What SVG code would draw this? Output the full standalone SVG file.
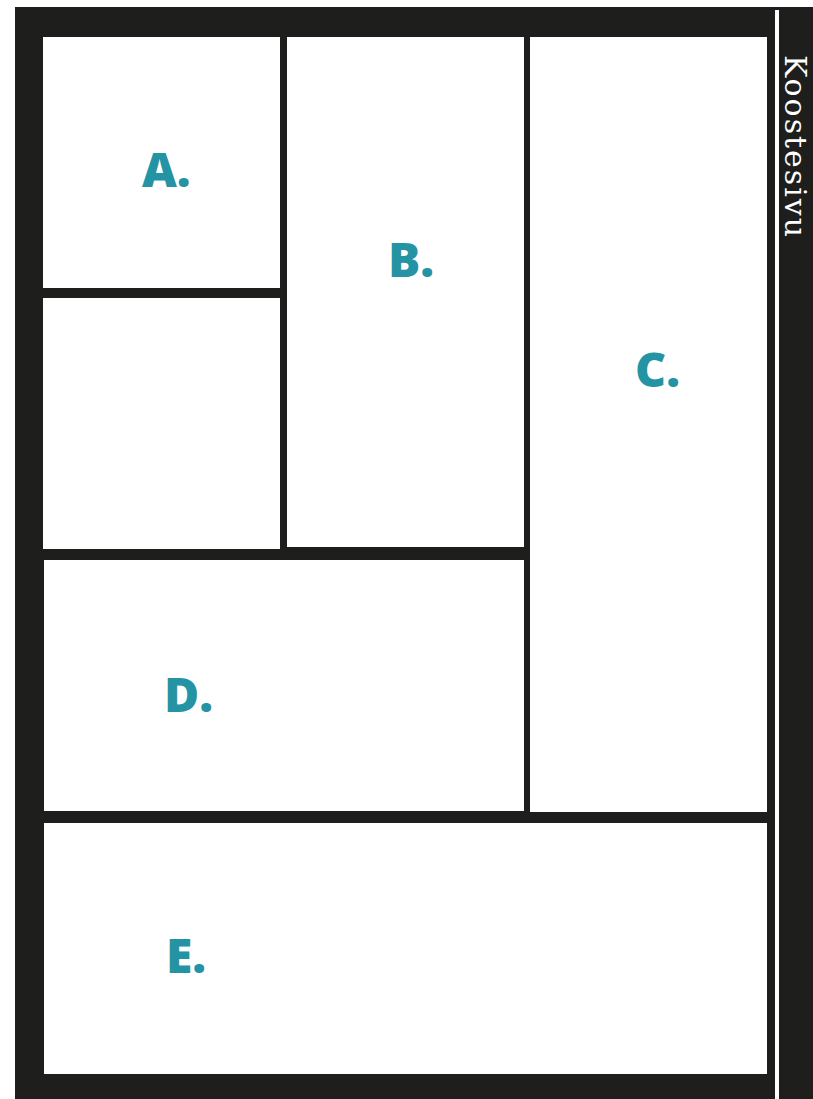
<svg xmlns="http://www.w3.org/2000/svg" width="813" height="1099" viewBox="0 0 813 1099">
<style>
.frame{fill:#1e1e1c}
.box{fill:#ffffff}
.lbl{font-family:"Open Sans","Noto Sans","Liberation Sans",sans-serif;font-weight:800;font-size:48px;fill:#2493a3}
.title{font-family:"DejaVu Serif","Liberation Serif",serif;font-size:30px;fill:#ffffff}
</style>
<rect width="813" height="1099" fill="#ffffff"/>
<rect class="frame" x="15" y="7" width="798" height="1092"/>
<rect x="775" y="10" width="4" height="1089" fill="#ffffff"/>
<g id="title"><text class="title" transform="translate(785,55) rotate(90)" textLength="182" lengthAdjust="spacing">Koostesivu</text></g>
<g id="A"><rect class="box" x="43" y="37" width="237" height="251"/><text class="lbl" x="142" y="187">A.</text></g>
<g id="blank"><rect class="box" x="43" y="298" width="237" height="251"/></g>
<g id="B"><rect class="box" x="287" y="37" width="237" height="510"/><text class="lbl" x="388" y="277">B.</text></g>
<g id="C"><rect class="box" x="530" y="37" width="237" height="775"/><text class="lbl" x="635" y="387">C.</text></g>
<g id="D"><rect class="box" x="44" y="560" width="480" height="251"/><text class="lbl" x="164" y="712">D.</text></g>
<g id="E"><rect class="box" x="44" y="823" width="723" height="251"/><text class="lbl" x="166" y="973">E.</text></g>
<g id="connectors"/>
</svg>
